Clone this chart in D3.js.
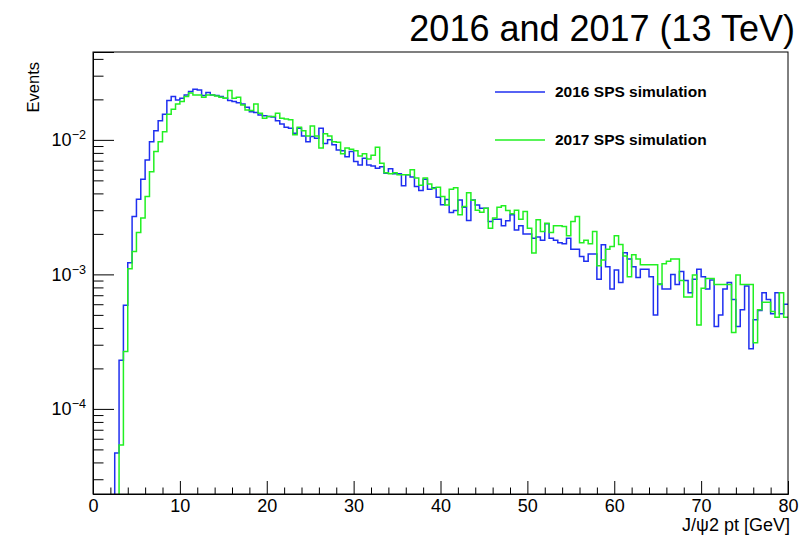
<!DOCTYPE html>
<html>
<head>
<meta charset="utf-8">
<script src="https://cdn.jsdelivr.net/npm/d3@7"></script>
<style>
  html, body { margin: 0; padding: 0; background: #fff; }
  svg { display: block; }
  text { font-family: "Liberation Sans", Arial, Helvetica, sans-serif; }
</style>
</head>
<body>
<svg id="chart" width="800" height="536"></svg>
<script>
// ---------------- DATA ----------------
const title = "2016 and 2017 (13 TeV)";
const xTitle = "J/\u03C82 pt [GeV]";
const yTitle = "Events";
const seriesNames = ["2016 SPS simulation", "2017 SPS simulation"];
const binEdges = d3.range(161).map(i => i * 0.5);   // 160 bins, 0..80 GeV
const xTickValues = [0, 10, 20, 30, 40, 50, 60, 70, 80];
const yTickValues = [1e-4, 1e-3, 1e-2];
const yTickExponents = ["\u22124", "\u22123", "\u22122"];

const values2016 = [
  0, 0, 0, 0, 0, 4.7e-5, 2.3e-4, 5.9e-4, 1.22e-3, 2.69e-3,
  3.62e-3, 5.1e-3, 7.1e-3, 9.7e-3, 1.17e-2, 1.39e-2, 1.55e-2, 1.96e-2, 2.10e-2, 1.98e-2,
  2.04e-2, 2.16e-2, 2.29e-2, 2.38e-2, 2.35e-2, 2.14e-2, 2.25e-2, 2.16e-2, 2.14e-2, 2.10e-2,
  2.04e-2, 1.96e-2, 1.93e-2, 1.89e-2, 1.85e-2, 1.75e-2, 1.62e-2, 1.60e-2, 1.53e-2, 1.51e-2,
  1.49e-2, 1.48e-2, 1.39e-2, 1.31e-2, 1.24e-2, 1.22e-2, 1.12e-2, 1.22e-2, 1.07e-2, 9.7e-3,
  1.06e-2, 1.03e-2, 1.22e-2, 9.4e-3, 1.0e-2, 9.2e-3, 8.4e-3, 8.3e-3, 7.5e-3, 8.2e-3,
  6.9e-3, 6.5e-3, 7.3e-3, 6.5e-3, 6.4e-3, 6.15e-3, 6.3e-3, 5.65e-3, 6.1e-3, 5.6e-3,
  5.6e-3, 4.55e-3, 5.5e-3, 5.3e-3, 4.5e-3, 4.2e-3, 5.1e-3, 4.3e-3, 4.4e-3, 3.75e-3,
  3.3e-3, 3.6e-3, 2.88e-3, 2.98e-3, 3.58e-3, 3.16e-3, 2.51e-3, 3.58e-3, 3.28e-3, 3.1e-3,
  3.1e-3, 2.47e-3, 2.57e-3, 2.57e-3, 2.3e-3, 2.5e-3, 2.77e-3, 2.14e-3, 2.3e-3, 2.0e-3,
  2.0e-3, 1.86e-3, 1.9e-3, 1.79e-3, 2.38e-3, 1.86e-3, 1.79e-3, 1.72e-3, 1.69e-3, 1.86e-3,
  1.54e-3, 1.54e-3, 1.36e-3, 1.25e-3, 1.42e-3, 1.42e-3, 9.2e-4, 1.66e-3, 1.14e-3, 7.8e-4,
  1.08e-3, 8.7e-4, 1.45e-3, 1.3e-3, 1.14e-3, 9.5e-4, 1.09e-3, 1.09e-3, 9.6e-4, 5.0e-4,
  8.5e-4, 7.8e-4, 7.8e-4, 1.0e-3, 8.4e-4, 1.05e-3, 9.0e-4, 7.3e-4, 9.2e-4, 1.09e-3,
  9.6e-4, 7.8e-4, 9.1e-4, 4.1e-4, 5.0e-4, 7.8e-4, 8.7e-4, 6.5e-4, 4.1e-4, 5.45e-4,
  8.2e-4, 2.8e-4, 4.6e-4, 5.4e-4, 7.3e-4, 6.5e-4, 5.1e-4, 7.3e-4, 5.1e-4, 6.0e-4
];

const values2017 = [
  0, 0, 0, 0, 0, 0, 5.4e-5, 2.67e-4, 1.1e-3, 1.48e-3,
  2.05e-3, 2.62e-3, 3.8e-3, 5.8e-3, 8.2e-3, 9.7e-3, 1.15e-2, 1.55e-2, 1.69e-2, 1.85e-2,
  1.93e-2, 2.1e-2, 2.23e-2, 2.16e-2, 2.16e-2, 2.07e-2, 2.16e-2, 2.16e-2, 2.12e-2, 2.07e-2,
  2.04e-2, 2.33e-2, 2.04e-2, 2.07e-2, 1.82e-2, 1.67e-2, 1.65e-2, 1.85e-2, 1.58e-2, 1.45e-2,
  1.49e-2, 1.49e-2, 1.58e-2, 1.45e-2, 1.43e-2, 1.41e-2, 1.09e-2, 1.24e-2, 1.17e-2, 1.07e-2,
  1.27e-2, 1.07e-2, 8.7e-3, 1.11e-2, 1.07e-2, 9.7e-3, 9.6e-3, 7.9e-3, 8.7e-3, 8.5e-3,
  8.3e-3, 7.6e-3, 7.9e-3, 7.2e-3, 7.7e-3, 8.8e-3, 6.7e-3, 5.7e-3, 5.6e-3, 5.7e-3,
  5.5e-3, 5.5e-3, 5.5e-3, 6.0e-3, 5.2e-3, 4.6e-3, 5.2e-3, 4.7e-3, 4.35e-3, 4.45e-3,
  3.8e-3, 3.28e-3, 4.3e-3, 4.4e-3, 2.77e-3, 3.2e-3, 4.05e-3, 3.55e-3, 3.0e-3, 2.9e-3,
  3.1e-3, 2.2e-3, 2.62e-3, 3.16e-3, 3.24e-3, 2.98e-3, 2.82e-3, 3.0e-3, 2.57e-3, 2.93e-3,
  2.2e-3, 1.44e-3, 2.55e-3, 2.08e-3, 2.4e-3, 2.05e-3, 2.3e-3, 2.3e-3, 2.27e-3, 1.94e-3,
  2.47e-3, 2.69e-3, 1.72e-3, 1.79e-3, 1.69e-3, 2.08e-3, 1.16e-3, 1.28e-3, 1.54e-3, 1.61e-3,
  1.94e-3, 1.67e-3, 1.37e-3, 9.6e-4, 1.4e-3, 1.3e-3, 1.18e-3, 1.18e-3, 1.18e-3, 1.18e-3,
  8.4e-4, 1.2e-3, 1.25e-3, 1.3e-3, 1.3e-3, 9.0e-4, 6.8e-4, 6.8e-4, 9.9e-4, 4.2e-4,
  7.9e-4, 9.3e-4, 9.3e-4, 8.4e-4, 8.4e-4, 8.4e-4, 8.4e-4, 3.7e-4, 9.9e-4, 8.4e-4,
  8.4e-4, 8.4e-4, 3.1e-4, 5.45e-4, 6.2e-4, 6.2e-4, 5.3e-4, 4.8e-4, 7.3e-4, 4.8e-4
];

const seriesValues = [values2016, values2017];
const seriesColors = ["#1f2ff0", "#22f022"];

// ---------------- LAYOUT ----------------
const svg = d3.select("#chart");
const W = 800, H = 536;
const frame = { left: 93, right: 788, top: 52, bottom: 494 };
const yDomain = [2.33e-5, 0.045];

const x = d3.scaleLinear().domain([0, 80]).range([frame.left, frame.right]);
const y = d3.scaleLog().domain(yDomain).range([frame.bottom, frame.top]);

svg.append("rect").attr("width", W).attr("height", H).attr("fill", "#fff");

svg.append("defs").append("clipPath").attr("id", "clip")
  .append("rect")
  .attr("x", frame.left).attr("y", frame.top)
  .attr("width", frame.right - frame.left).attr("height", frame.bottom - frame.top);

// ---------------- HISTOGRAMS ----------------
function stepPoints(vals) {
  const pts = [];
  vals.forEach((v, i) => {
    const vv = v > yDomain[0] ? v : yDomain[0] * 0.5;
    pts.push([binEdges[i], vv]);
    pts.push([binEdges[i + 1], vv]);
  });
  return pts;
}
const line = d3.line().x(d => x(d[0])).y(d => y(d[1]));

const gHist = svg.append("g").attr("clip-path", "url(#clip)");
seriesValues.forEach((vals, k) => {
  gHist.append("path")
    .attr("d", line(stepPoints(vals)))
    .attr("fill", "none")
    .attr("stroke", seriesColors[k])
    .attr("stroke-width", 1.5)
    .attr("stroke-linejoin", "miter");
});

// ---------------- AXES ----------------
const labelFont = 18;

// X axis major
const xAxis = d3.axisBottom(x).tickValues(xTickValues).tickFormat(d3.format("d"))
  .tickSize(-13).tickPadding(5);
const gx = svg.append("g").attr("transform", `translate(0,${frame.bottom})`).call(xAxis);
// X axis minor
const xMinor = d3.range(0, 81, 2).filter(v => v % 10 !== 0);
const gxm = svg.append("g").attr("transform", `translate(0,${frame.bottom})`)
  .call(d3.axisBottom(x).tickValues(xMinor).tickFormat("").tickSize(-6.5));
gxm.select(".domain").remove();

// Y axis major
const yAxis = d3.axisLeft(y).tickValues(yTickValues).tickFormat("").tickSize(-21).tickPadding(7);
const gy = svg.append("g").attr("transform", `translate(${frame.left},0)`).call(yAxis);
gy.selectAll(".tick text").each(function(d) {
  const t = d3.select(this);
  t.text(null);
  t.append("tspan").text("10");
  t.append("tspan").attr("dy", "-0.55em").attr("font-size", "0.7em")
    .text(yTickExponents[yTickValues.indexOf(d)]);
});
// Y axis minor
const yMinor = [];
[-5, -4, -3, -2].forEach(e => { for (let m = 2; m <= 9; m++) yMinor.push(m * Math.pow(10, e)); });
const gym = svg.append("g").attr("transform", `translate(${frame.left},0)`)
  .call(d3.axisLeft(y).tickValues(yMinor.filter(v => v >= yDomain[0] && v <= yDomain[1]))
    .tickFormat("").tickSize(-10.5));
gym.select(".domain").remove();

[gx, gxm, gy, gym].forEach(g => {
  g.selectAll("line").attr("stroke", "#000").attr("stroke-width", 1);
  g.selectAll(".domain").attr("stroke", "#000");
  g.selectAll("text").attr("font-size", labelFont).attr("fill", "#000")
    .attr("font-family", "'Liberation Sans', Arial, sans-serif");
});

// Frame
svg.append("rect")
  .attr("x", frame.left).attr("y", frame.top)
  .attr("width", frame.right - frame.left).attr("height", frame.bottom - frame.top)
  .attr("fill", "none").attr("stroke", "#000").attr("stroke-width", 1);

// ---------------- TITLES ----------------
svg.append("text")
  .attr("x", 795).attr("y", 41)
  .attr("text-anchor", "end")
  .attr("font-size", 36)
  .attr("fill", "#000")
  .text(title);

svg.append("text")
  .attr("x", 790).attr("y", 531)
  .attr("text-anchor", "end")
  .attr("font-size", 18)
  .attr("fill", "#000")
  .text(xTitle);

svg.append("text")
  .attr("transform", "translate(39,62) rotate(-90)")
  .attr("text-anchor", "end")
  .attr("font-size", 16.5)
  .attr("fill", "#000")
  .text(yTitle);

// ---------------- LEGEND ----------------
const legendY = [92, 140];
seriesNames.forEach((name, k) => {
  svg.append("line")
    .attr("x1", 495).attr("x2", 545)
    .attr("y1", legendY[k]).attr("y2", legendY[k])
    .attr("stroke", seriesColors[k]).attr("stroke-width", 1.5);
  svg.append("text")
    .attr("x", 555).attr("y", legendY[k])
    .attr("dy", "0.35em")
    .attr("font-size", 15.5)
    .attr("font-weight", "bold")
    .attr("fill", "#000")
    .text(name);
});
</script>
</body>
</html>
